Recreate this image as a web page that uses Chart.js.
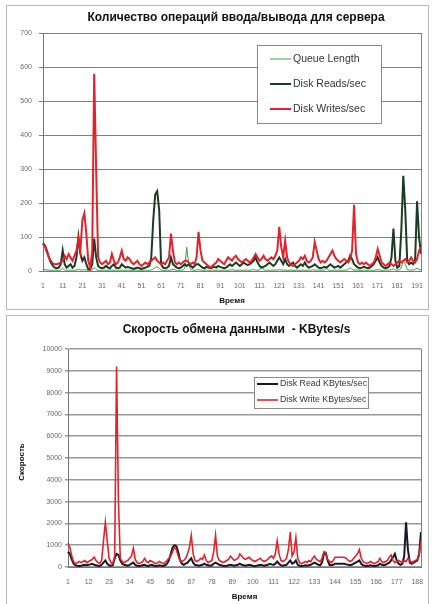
<!DOCTYPE html>
<html lang="ru">
<head>
<meta charset="UTF-8">
<title>Операции ввода/вывода</title>
<script src="https://cdn.jsdelivr.net/npm/chart.js"></script>
<style>
  html, body { margin: 0; padding: 0; background: #fff; overflow: hidden; }
  .frame { position: absolute; border: 1px solid #b8b8b8; background: #fff; }
  #box1 { left: 6px; top: 5px; width: 421px; height: 303px; }
  #box2 { left: 6px; top: 315px; width: 421px; height: 300px; }
  canvas { display: block; }
</style>
</head>
<body>
<div class="frame" id="box1"><canvas id="ioChart" width="420" height="302"></canvas></div>
<div class="frame" id="box2"><canvas id="rateChart" width="420" height="288"></canvas></div>

<script>
// --- chart 1: I/O operations ---
const queueLength = [
  5,4,3,3,2,2,3,2,2,3, 8,3,2,2,3,2,2,3,5,3, 3,4,3,2,2,3,10,4,2,2, 2,3,2,2,3,2,2,3,2,2,
  3,2,2,3,2,2,2,3,2,2, 2,2,3,2,2,3,6,10,12,8, 3,2,2,3,2,3,5,3,2,2, 3,2,8,70,20,4,3,2,3,4,
  3,2,2,3,2,2,3,2,2,3, 2,2,3,2,2,3,4,3,2,2, 3,2,2,3,2,2,3,4,3,2, 3,15,4,2,3,2,2,3,2,3,
  4,3,2,3,2,2,3,2,2,3, 2,2,3,2,2,3,2,4,3,2, 3,2,2,3,8,3,2,2,3,2, 3,2,2,3,2,5,10,4,3,2,
  3,2,2,3,2,2,3,2,2,3, 4,3,2,2,3,2,3,4,6,3, 2,3,10,30,20,4,3,2,3,5, 8,4,3
];
const diskReads = [
  82,75,60,40,25,15,10,8,10,20, 60,20,10,15,20,10,15,40,100,50, 30,40,20,5,5,20,95,40,15,10,
  8,10,15,10,8,15,20,10,8,10, 20,15,10,12,10,8,6,8,10,8, 6,8,10,12,15,40,150,225,235,180,
  20,10,8,10,15,40,20,15,10,8, 10,15,20,15,20,15,10,15,20,20, 15,10,8,12,10,8,10,12,10,15,
  12,10,8,10,15,20,15,20,25,20, 15,20,25,20,18,20,25,30,40,25, 15,10,12,15,20,25,20,15,20,30,
  40,30,20,35,20,15,20,25,15,10, 15,20,15,25,15,10,12,15,20,15, 10,8,10,12,10,15,20,15,10,12,
  15,10,15,20,25,30,45,35,20,15, 10,8,10,12,10,8,10,15,20,30, 40,25,15,10,8,10,15,40,125,30,
  10,15,120,280,180,30,20,25,20,30, 205,100,50
];
const diskWrites = [
  80,72,55,40,30,22,20,20,22,25, 30,45,35,50,40,30,45,60,95,60, 150,170,110,30,10,60,580,300,40,25,
  20,25,30,20,25,50,30,20,25,40, 60,35,30,40,35,25,20,25,30,20, 15,20,25,20,25,30,35,40,30,25,
  20,25,20,30,40,110,60,25,20,25, 20,25,30,30,25,20,25,20,40,115, 60,30,25,20,15,10,15,20,25,35,
  30,25,20,30,40,35,30,40,45,35, 30,25,30,35,30,25,30,40,50,40, 30,35,45,35,30,35,40,35,45,60,
  130,70,40,90,40,25,20,15,20,25, 30,40,35,45,30,25,30,40,85,60, 35,25,30,25,30,40,50,60,45,35,
  30,25,30,35,30,25,35,60,195,50, 25,20,25,20,25,20,15,20,25,40, 65,45,25,20,15,20,25,20,15,20,
  25,30,25,30,35,25,30,40,30,25, 35,60,70
];
const ioTicks = [1, 11, 21, 31, 41, 51, 61, 71, 81, 91, 101, 111, 121, 131, 141, 151, 161, 171, 181, 191];

// --- chart 2: transfer rate ---
const readKB = [
  700,600,350,150,80,60,50,60,80,100, 80,100,120,150,100,80,60,50,100,200, 300,150,80,60,80,400,600,550,300,150,
  100,80,60,100,150,200,100,60,50,60, 80,100,60,50,80,100,60,50,60,80, 60,50,80,150,300,600,900,1000,950,700,
  300,150,100,150,200,300,400,200,100,80, 60,80,100,150,100,80,60,80,150,200, 150,100,80,60,50,60,80,100,80,60,
  80,100,150,100,80,60,80,100,80,60, 50,60,80,100,80,60,80,100,150,120, 100,150,250,150,80,60,80,100,200,300,
  150,200,300,100,60,50,60,80,60,80, 100,150,200,150,100,80,200,600,650,300, 100,80,100,150,150,150,150,150,150,120,
  100,80,100,150,200,250,300,150,80,60, 50,60,80,60,50,60,80,150,100,80, 100,150,200,300,450,600,300,150,100,150,
  500,2050,800,200,150,200,250,300,600,1600
];
const writeKB = [
  1100,900,500,250,150,200,250,200,250,300, 200,250,300,350,450,300,200,150,300,1200, 2050,1200,400,200,150,500,9200,3000,400,250,
  200,250,300,400,500,870,350,200,150,200, 250,400,250,200,300,250,200,150,200,250, 200,150,200,300,400,500,700,900,800,500,
  300,250,300,400,600,900,1450,600,300,250, 300,400,350,550,300,200,250,300,700,1450, 500,300,250,200,250,300,350,500,400,300,
  350,400,600,500,400,350,400,450,350,300, 250,300,350,400,300,250,300,350,450,500, 400,600,1200,600,300,250,300,400,800,1600,
  500,700,1350,400,200,150,200,250,200,300, 250,400,500,350,300,250,400,700,650,350, 250,200,300,450,450,450,450,450,450,400,
  300,250,300,400,500,600,800,400,250,200, 150,200,250,200,150,200,250,400,250,200, 250,300,450,550,300,200,250,300,250,200,
  300,250,400,300,200,250,300,350,500,1200
];
const rateTicks = [1, 12, 23, 34, 45, 56, 67, 78, 89, 100, 111, 122, 133, 144, 155, 166, 177, 188];

const FONT = '"Liberation Sans", Arial, sans-serif';

// titles, axis titles, right plot edge and the in-plot legend
const chartText = {
  id: 'chartText',
  afterDraw(chart, args, o) {
    const { ctx, chartArea: a } = chart;
    const cx = (a.left + a.right) / 2;
    ctx.save();
    ctx.strokeStyle = '#808080';
    ctx.lineWidth = 1;
    ctx.beginPath();
    ctx.moveTo(a.right + 0.5, a.top);
    ctx.lineTo(a.right + 0.5, a.bottom);
    ctx.stroke();

    ctx.fillStyle = '#111';
    ctx.textAlign = 'center';
    ctx.textBaseline = 'middle';
    ctx.font = 'bold 12px ' + FONT;
    ctx.fillText(o.title, cx + o.titleDx, a.top + o.titleDy);
    ctx.font = 'bold 8px ' + FONT;
    ctx.fillText('Время', cx + o.xTitleDx, a.bottom + o.xTitleDy);
    if (o.yTitle) {
      ctx.save();
      ctx.translate(o.yTitleX, (a.top + a.bottom) / 2 + 4);
      ctx.rotate(-Math.PI / 2);
      ctx.fillText(o.yTitle, 0, 0);
      ctx.restore();
    }

    // legend box
    const lg = o.legend;
    const bx = a.left + lg.dx, by = a.top + lg.dy;
    ctx.fillStyle = '#fff';
    ctx.fillRect(bx, by, lg.w, lg.h);
    ctx.strokeStyle = '#8a8a8a';
    ctx.strokeRect(bx + 0.5, by + 0.5, lg.w, lg.h);
    ctx.font = lg.fontSize + 'px ' + FONT;
    ctx.textAlign = 'left';
    chart.data.datasets.forEach((ds, i) => {
      const y = by + lg.first + i * lg.gap;
      ctx.strokeStyle = ds.borderColor;
      ctx.lineWidth = ds.borderWidth;
      ctx.beginPath();
      ctx.moveTo(bx + lg.lineX, y);
      ctx.lineTo(bx + lg.lineX + lg.lineW, y);
      ctx.stroke();
      ctx.fillStyle = '#333';
      ctx.fillText(ds.label, bx + lg.lineX + lg.lineW + 2, y);
    });
    ctx.restore();
  }
};

function xTicks(list) {
  return {
    autoSkip: false, maxRotation: 0, padding: 3, color: '#6a6a6a',
    font: { family: FONT, size: 7 },
    callback(v) {
      const lab = this.getLabelForValue(v);
      return list.includes(lab) ? String(lab) : '';
    }
  };
}

new Chart(document.getElementById('ioChart'), {
  type: 'line',
  data: {
    labels: Array.from({ length: diskWrites.length }, (_, i) => i + 1),
    datasets: [
      { label: 'Queue Length', data: queueLength, borderColor: '#3f9f45', borderWidth: 1, order: 2 },
      { label: 'Disk Reads/sec', data: diskReads, borderColor: '#1d3a24', borderWidth: 2, order: 1 },
      { label: 'Disk Writes/sec', data: diskWrites, borderColor: '#e3232b', borderWidth: 2, order: 0 }
    ]
  },
  options: {
    responsive: false,
    animation: false,
    layout: { padding: { top: 27, right: 6, left: 0, bottom: 0 } },
    elements: { point: { radius: 0 }, line: { tension: 0 } },
    plugins: {
      legend: { display: false },
      tooltip: { enabled: false },
      chartText: {
        title: 'Количество операций ввода/вывода для сервера',
        titleDx: 4, titleDy: -15, xTitleDx: 0, xTitleDy: 30,
        legend: { dx: 214, dy: 12, w: 124, h: 78, first: 14, gap: 25, lineX: 13, lineW: 21, fontSize: 10.5 }
      }
    },
    scales: {
      x: {
        grid: { display: false },
        border: { color: '#777' },
        ticks: xTicks(ioTicks),
        afterFit(s) { s.height = 37; }
      },
      y: {
        min: 0, max: 700,
        grid: { color: '#808080', tickLength: 4 },
        border: { color: '#777' },
        ticks: { stepSize: 100, padding: 7, color: '#6a6a6a', font: { family: FONT, size: 7 }, callback: v => String(v) },
        afterFit(s) { s.width = 36; }
      }
    }
  },
  plugins: [chartText]
});

new Chart(document.getElementById('rateChart'), {
  type: 'line',
  data: {
    labels: Array.from({ length: writeKB.length }, (_, i) => i + 1),
    datasets: [
      { label: 'Disk Read KBytes/sec', data: readKB, borderColor: '#1a1824', borderWidth: 2, order: 1 },
      { label: 'Disk Write KBytes/sec', data: writeKB, borderColor: '#e3232b', borderWidth: 1.6, order: 0 }
    ]
  },
  options: {
    responsive: false,
    animation: false,
    layout: { padding: { top: 33, right: 6, left: 0, bottom: 0 } },
    elements: { point: { radius: 0 }, line: { tension: 0 } },
    plugins: {
      legend: { display: false },
      tooltip: { enabled: false },
      chartText: {
        title: 'Скорость обмена данными  - KBytes/s',
        titleDx: -8, titleDy: -19, xTitleDx: 0, xTitleDy: 30,
        yTitle: 'Скорость', yTitleX: 15,
        legend: { dx: 186, dy: 28, w: 114, h: 31, first: 7, gap: 16, lineX: 3, lineW: 21, fontSize: 8.8 }
      }
    },
    scales: {
      x: {
        grid: { display: false },
        border: { color: '#777' },
        ticks: xTicks(rateTicks),
        afterFit(s) { s.height = 37; }
      },
      y: {
        min: 0, max: 10000,
        grid: { color: '#999', lineWidth: 1.5, tickLength: 3 },
        border: { color: '#777' },
        ticks: { stepSize: 1000, padding: 3, color: '#6a6a6a', font: { family: FONT, size: 7 }, callback: v => String(v) },
        afterFit(s) { s.width = 61; }
      }
    }
  },
  plugins: [chartText]
});
</script>
</body>
</html>
